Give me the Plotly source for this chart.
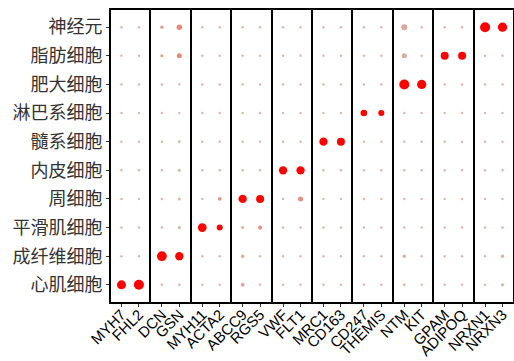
import plotly.graph_objects as go
from plotly.subplots import make_subplots

# Cell types, bottom to top
cell_types = ["心肌细胞", "成纤维细胞", "平滑肌细胞", "周细胞", "内皮细胞",
              "髓系细胞", "淋巴系细胞", "肥大细胞", "脂肪细胞", "神经元"]

# Marker gene pairs, one pair per panel
gene_groups = [["MYH7", "FHL2"], ["DCN", "GSN"], ["MYH11", "ACTA2"],
               ["ABCC9", "RGS5"], ["VWF", "FLT1"], ["MRC1", "CD163"],
               ["CD247", "THEMIS"], ["NTM", "KIT"], ["GPAM", "ADIPOQ"],
               ["NRXN1", "NRXN3"]]
genes = [g for pair in gene_groups for g in pair]

# Percent of cells expressing (rows = cell_types, cols = genes)
pct_expressed = [
    # MYH7 FHL2 DCN GSN MYH11 ACTA2 ABCC9 RGS5 VWF FLT1 MRC1 CD163 CD247 THEMIS NTM KIT GPAM ADIPOQ NRXN1 NRXN3
    [67, 83, 5, 6, 5, 5, 13, 5, 5, 5, 5, 5, 5, 5, 6, 5, 5, 5, 5, 8],   # 心肌细胞
    [5, 5, 78, 57, 5, 5, 10, 5, 5, 5, 5, 5, 5, 5, 10, 5, 5, 5, 5, 10], # 成纤维细胞
    [5, 5, 5, 8, 63, 30, 7, 14, 5, 5, 5, 5, 5, 5, 5, 5, 5, 5, 5, 6],   # 平滑肌细胞
    [5, 5, 5, 8, 5, 11, 57, 53, 5, 21, 5, 5, 5, 5, 5, 5, 5, 5, 5, 5],  # 周细胞
    [5, 5, 5, 8, 5, 5, 5, 5, 57, 57, 5, 5, 5, 5, 5, 5, 5, 5, 5, 5],    # 内皮细胞
    [5, 5, 5, 7, 5, 5, 5, 5, 5, 5, 57, 53, 5, 5, 5, 5, 5, 5, 5, 5],    # 髓系细胞
    [5, 5, 5, 6, 5, 5, 5, 5, 5, 5, 5, 5, 36, 30, 5, 5, 5, 5, 5, 5],    # 淋巴系细胞
    [5, 5, 5, 6, 5, 5, 5, 5, 5, 5, 5, 5, 5, 5, 83, 71, 5, 5, 5, 5],    # 肥大细胞
    [5, 5, 8, 21, 5, 5, 5, 5, 5, 5, 5, 5, 5, 5, 21, 5, 53, 53, 5, 5],  # 脂肪细胞
    [5, 5, 10, 25, 5, 5, 5, 5, 5, 5, 5, 5, 5, 5, 30, 5, 5, 5, 83, 71], # 神经元
]

# Scaled average expression (0 = low, 1 = high)
avg_expression = [
    [1.0, 1.0, 0.2, 0.2, 0.2, 0.2, 0.3, 0.2, 0.2, 0.2, 0.2, 0.2, 0.2, 0.2, 0.25, 0.2, 0.2, 0.2, 0.2, 0.25],
    [0.2, 0.2, 1.0, 1.0, 0.2, 0.2, 0.3, 0.2, 0.2, 0.2, 0.2, 0.2, 0.2, 0.2, 0.25, 0.2, 0.2, 0.2, 0.2, 0.25],
    [0.2, 0.2, 0.2, 0.2, 1.0, 1.0, 0.25, 0.45, 0.2, 0.2, 0.2, 0.2, 0.2, 0.2, 0.2, 0.2, 0.2, 0.2, 0.2, 0.2],
    [0.2, 0.2, 0.2, 0.2, 0.2, 0.45, 1.0, 1.0, 0.2, 0.45, 0.2, 0.2, 0.2, 0.2, 0.2, 0.2, 0.2, 0.2, 0.2, 0.2],
    [0.2, 0.2, 0.2, 0.2, 0.2, 0.2, 0.2, 0.2, 1.0, 1.0, 0.2, 0.2, 0.2, 0.2, 0.2, 0.2, 0.2, 0.2, 0.2, 0.2],
    [0.2, 0.2, 0.2, 0.2, 0.2, 0.2, 0.2, 0.2, 0.2, 0.2, 1.0, 1.0, 0.2, 0.2, 0.2, 0.2, 0.2, 0.2, 0.2, 0.2],
    [0.2, 0.2, 0.2, 0.1, 0.2, 0.2, 0.2, 0.2, 0.2, 0.2, 0.2, 0.2, 1.0, 1.0, 0.2, 0.2, 0.2, 0.2, 0.2, 0.2],
    [0.2, 0.2, 0.2, 0.1, 0.2, 0.2, 0.2, 0.2, 0.2, 0.2, 0.2, 0.2, 0.2, 0.2, 1.0, 1.0, 0.2, 0.2, 0.2, 0.2],
    [0.2, 0.2, 0.35, 0.5, 0.2, 0.2, 0.2, 0.2, 0.2, 0.2, 0.2, 0.2, 0.2, 0.2, 0.3, 0.2, 1.0, 1.0, 0.2, 0.2],
    [0.2, 0.2, 0.35, 0.5, 0.2, 0.2, 0.2, 0.2, 0.2, 0.2, 0.2, 0.2, 0.2, 0.2, 0.3, 0.2, 0.2, 0.2, 1.0, 1.0],
]

# grey -> red ramp interpolated through warm tones
colorscale = [[0.0, "#D3D3D3"], [0.25, "#DCB0A6"], [0.5, "#E68A78"],
              [0.75, "#F25A45"], [1.0, "#FF0000"]]

n_panels = len(gene_groups)
fig = make_subplots(rows=1, cols=n_panels, shared_yaxes=True,
                    horizontal_spacing=0.005)

for p, pair in enumerate(gene_groups):
    xs, ys, sz, cl = [], [], [], []
    for g in pair:
        j = genes.index(g)
        for i, ct in enumerate(cell_types):
            xs.append(g)
            ys.append(ct)
            sz.append(11 * (pct_expressed[i][j] / 100) ** 0.5)
            cl.append(avg_expression[i][j])
    fig.add_trace(go.Scatter(
        x=xs, y=ys, mode="markers",
        marker=dict(size=sz, color=cl, colorscale=colorscale, cmin=0, cmax=1,
                    line=dict(width=0), opacity=1),
        showlegend=False, hoverinfo="x+y"), row=1, col=p + 1)
    fig.update_xaxes(categoryorder="array", categoryarray=pair,
                     tickmode="array", tickvals=pair, ticktext=pair,
                     range=[-0.6, 1.6], row=1, col=p + 1)

fig.update_xaxes(showline=True, mirror=True, linecolor="black", linewidth=2,
                 showgrid=False, zeroline=False, ticks="outside", ticklen=3,
                 tickcolor="#333333", tickwidth=1, tickangle=-45, automargin=False,
                 ticklabelstandoff=-7,
                 tickfont=dict(family="Liberation Sans, Arial", size=15, color="black"))
fig.update_yaxes(showline=True, mirror=True, linecolor="black", linewidth=2,
                 showgrid=False, zeroline=False, automargin=False,
                 categoryorder="array", categoryarray=cell_types,
                 range=[-0.6, 9.6])
fig.update_yaxes(ticks="outside", ticklen=3, tickcolor="#333333", tickwidth=1,
                 tickfont=dict(family="Noto Sans CJK SC", size=18, color="#333333"),
                 row=1, col=1)

fig.update_layout(width=514, height=361,
                  margin=dict(l=111, r=1, t=10, b=59),
                  paper_bgcolor="white", plot_bgcolor="white")

fig.write_html("out.html")
